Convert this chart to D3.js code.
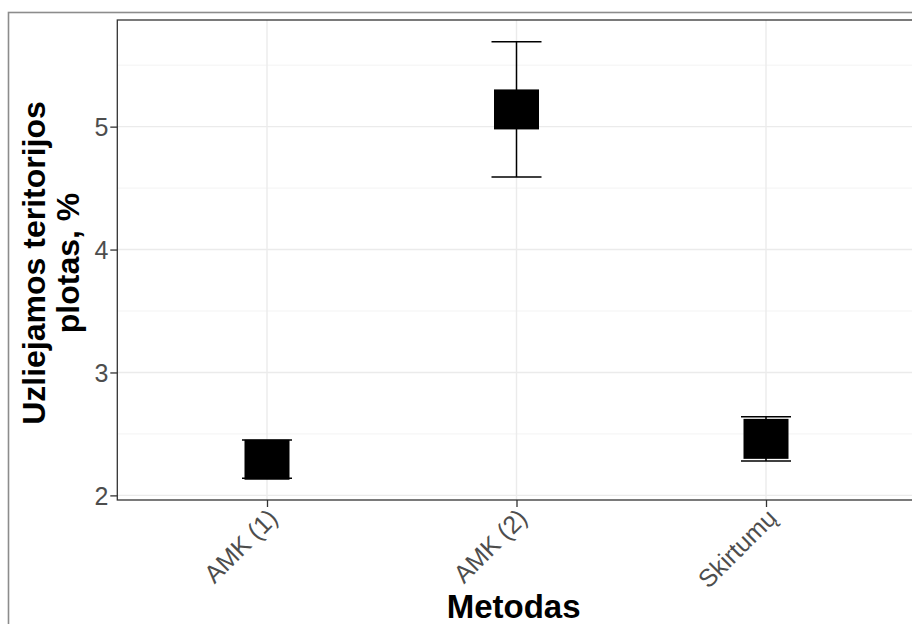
<!DOCTYPE html>
<html>
  <head>
    <meta charset="utf-8">
    <title></title>
    <script src="https://d3js.org/d3.v7.min.js"></script>
  </head>

  <style>
    body {
      margin: 0;
      background-color: white;
    }
    svg text {
      font-family: 'Liberation Sans', Arial, sans-serif;
    }
    .tick_label {
      font-size: 25px;
      fill: #4d4d4d;
    }
    .axis_title {
      font-size: 32px;
      font-weight: bold;
      fill: black;
    }
  </style>

  <body>
    <div id="chart"></div>
    <script>

    // values
    var categories = ['AMK (1)', 'AMK (2)', 'Skirtumų'];
    var means = [2.29, 5.14, 2.46];
    var lower = [2.14, 4.59, 2.28];
    var upper = [2.45, 5.69, 2.64];
    var yTicks = [2, 3, 4, 5];
    var yMinor = [2.5, 3.5, 4.5, 5.5];

    var svgWidth = 912;
    var svgHeight = 624;
    var panel = { left: 117.3, top: 20, right: 915.7, bottom: 500 };
    var pointW = 45;
    var pointH = 40;
    var capW = 50;

    var lo = d3.min(lower);
    var hi = d3.max(upper);
    var pad = (hi - lo) * 0.05;

    var yScale = d3.scaleLinear()
      .domain([lo - pad, hi + pad])
      .range([panel.bottom, panel.top]);

    var xScale = d3.scalePoint()
      .domain(categories)
      .padding(0.6)
      .range([panel.left, panel.right]);

    var svg = d3.select('#chart').append('svg')
      .attr('width', svgWidth)
      .attr('height', svgHeight);

    // outer frame of the picture
    svg.append('rect')
      .attr('x', 8.5)
      .attr('y', 12.5)
      .attr('width', 1000)
      .attr('height', 1000)
      .style('fill', 'none')
      .style('stroke', '#8c8c8c')
      .style('stroke-width', 1.6);

    var grid = svg.append('g');

    grid.selectAll('.minor')
      .data(yMinor)
      .enter().append('line')
      .attr('x1', panel.left).attr('x2', panel.right)
      .attr('y1', function(d){ return yScale(d); })
      .attr('y2', function(d){ return yScale(d); })
      .style('stroke', '#f0f0f0')
      .style('stroke-width', 0.8);

    grid.selectAll('.major')
      .data(yTicks)
      .enter().append('line')
      .attr('x1', panel.left).attr('x2', panel.right)
      .attr('y1', function(d){ return yScale(d); })
      .attr('y2', function(d){ return yScale(d); })
      .style('stroke', '#ebebeb')
      .style('stroke-width', 1.4);

    grid.selectAll('.vmajor')
      .data(categories)
      .enter().append('line')
      .attr('x1', function(d){ return xScale(d); })
      .attr('x2', function(d){ return xScale(d); })
      .attr('y1', panel.top).attr('y2', panel.bottom)
      .style('stroke', '#ebebeb')
      .style('stroke-width', 1.4);

    // error bars
    var bars = svg.append('g').selectAll('g')
      .data(categories)
      .enter().append('g');

    bars.append('line')
      .attr('x1', function(d){ return xScale(d); })
      .attr('x2', function(d){ return xScale(d); })
      .attr('y1', function(d, i){ return yScale(lower[i]); })
      .attr('y2', function(d, i){ return yScale(upper[i]); })
      .style('stroke', 'black')
      .style('stroke-width', 1.5);

    bars.append('line')
      .attr('x1', function(d){ return xScale(d) - capW / 2; })
      .attr('x2', function(d){ return xScale(d) + capW / 2; })
      .attr('y1', function(d, i){ return yScale(upper[i]); })
      .attr('y2', function(d, i){ return yScale(upper[i]); })
      .style('stroke', 'black')
      .style('stroke-width', 1.5);

    bars.append('line')
      .attr('x1', function(d){ return xScale(d) - capW / 2; })
      .attr('x2', function(d){ return xScale(d) + capW / 2; })
      .attr('y1', function(d, i){ return yScale(lower[i]); })
      .attr('y2', function(d, i){ return yScale(lower[i]); })
      .style('stroke', 'black')
      .style('stroke-width', 1.5);

    bars.append('rect')
      .attr('x', function(d){ return xScale(d) - pointW / 2; })
      .attr('y', function(d, i){ return yScale(means[i]) - pointH / 2; })
      .attr('width', pointW)
      .attr('height', pointH)
      .style('fill', 'black');

    // panel border
    svg.append('rect')
      .attr('x', panel.left)
      .attr('y', panel.top)
      .attr('width', panel.right - panel.left)
      .attr('height', panel.bottom - panel.top)
      .style('fill', 'none')
      .style('stroke', '#333333')
      .style('stroke-width', 1.3);

    // y axis
    var yAxis = d3.axisLeft(yScale)
      .tickValues(yTicks)
      .tickFormat(d3.format('d'))
      .tickSizeInner(7)
      .tickSizeOuter(0)
      .tickPadding(2);

    var yGuide = svg.append('g')
      .attr('transform', 'translate(' + panel.left + ',0)')
      .call(yAxis);
    yGuide.select('.domain').remove();
    yGuide.selectAll('.tick line').style('stroke', '#333333').style('stroke-width', 1.3);
    yGuide.selectAll('.tick text')
      .attr('class', 'tick_label')
      .attr('dy', '0.36em')
      .attr('font-size', null)
      .attr('font-family', null);

    // x axis
    var xAxis = d3.axisBottom(xScale)
      .tickSizeInner(7)
      .tickSizeOuter(0);

    var xGuide = svg.append('g')
      .attr('transform', 'translate(0,' + panel.bottom + ')')
      .call(xAxis);
    xGuide.select('.domain').remove();
    xGuide.selectAll('.tick line').style('stroke', '#333333').style('stroke-width', 1.3);
    xGuide.selectAll('.tick text')
      .attr('class', 'tick_label')
      .attr('font-size', null)
      .attr('font-family', null)
      .attr('y', 0)
      .attr('dy', '0.72em')
      .attr('text-anchor', 'end')
      .attr('transform', 'translate(-1,7) rotate(-45)');

    // axis titles
    svg.append('text')
      .attr('class', 'axis_title')
      .attr('x', (panel.left + 912) / 2 - 1)
      .attr('y', 618)
      .attr('text-anchor', 'middle')
      .style('font-size', '33px')
      .text('Metodas');

    var yTitle = svg.append('text')
      .attr('class', 'axis_title')
      .attr('text-anchor', 'middle')
      .attr('transform', 'translate(45,' + ((panel.top + panel.bottom) / 2 + 3) + ') rotate(-90)');
    yTitle.append('tspan').attr('x', 0).attr('y', 0).text('Uzliejamos teritorijos');
    yTitle.append('tspan').attr('x', 0).attr('y', 34).text('plotas, %');

    </script>
  </body>
</html>
